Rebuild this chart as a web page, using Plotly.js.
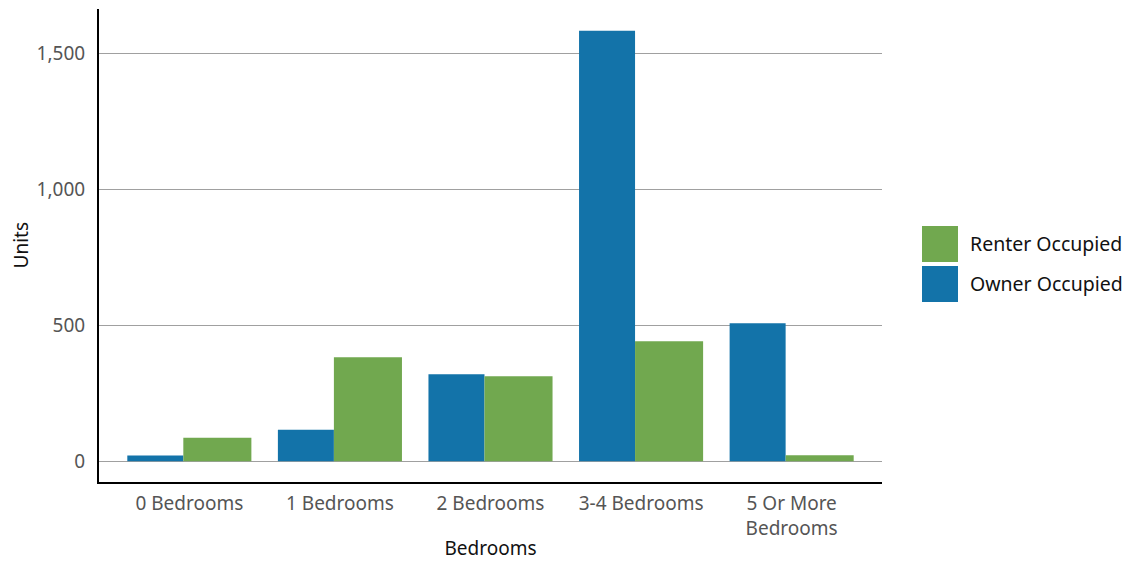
<!DOCTYPE html>
<html>
<head>
<meta charset="utf-8">
<script src="https://cdn.plot.ly/plotly-3.0.1.min.js"></script>
<style>html,body{margin:0;padding:0;background:#fff;}#chart{width:1128px;height:561px;}</style>
</head>
<body>
<div id="chart"></div>
<script>
const categories = ["0 Bedrooms", "1 Bedrooms", "2 Bedrooms", "3-4 Bedrooms", "5 Or More<br>Bedrooms"];
const ownerOccupied = [21, 116, 320, 1582, 507];
const renterOccupied = [87, 382, 313, 441, 22];
const seriesNames = ["Owner Occupied", "Renter Occupied"];
const seriesColors = ["#1373A9", "#71A84F"];
const yTicks = [0, 500, 1000, 1500];
const xTitle = "Bedrooms";
const yTitle = "Units";

const FONT = "Noto Sans, sans-serif";

const traces = [
  {type: "bar", name: seriesNames[0], x: categories, y: ownerOccupied, offset: -0.412, width: 0.372,
   marker: {color: seriesColors[0], line: {width: 0}}, showlegend: false, hoverinfo: "x+y+name"},
  {type: "bar", name: seriesNames[1], x: categories, y: renterOccupied, offset: -0.040, width: 0.452,
   marker: {color: seriesColors[1], line: {width: 0}}, showlegend: false, hoverinfo: "x+y+name"}
];

// custom legend (Renter first, then Owner) as large swatches
const legendOrder = [1, 0];
const shapes = [];
const annotations = [];
const legX0 = 922, legY0 = 226, sw = 36, step = 40;
legendOrder.forEach((idx, i) => {
  const top = legY0 + i * step;
  shapes.push({type: "rect", xref: "paper", yref: "paper",
    x0: (legX0 - 99) / (882 - 99), x1: (legX0 + sw - 99) / (882 - 99),
    y0: (482 - (top + sw)) / (482 - 9), y1: (482 - top) / (482 - 9),
    fillcolor: seriesColors[idx], line: {width: 0}});
  annotations.push({xref: "paper", yref: "paper", x: (968 - 99) / (882 - 99),
    y: (482 - (top + sw / 2)) / (482 - 9), xanchor: "left", yanchor: "middle",
    text: seriesNames[idx], showarrow: false, font: {family: FONT, size: 19.5, color: "#111"}});
});
// y-axis title placed as rotated text
annotations.push({xref: "paper", yref: "paper", x: (20 - 99) / (882 - 99), y: 0.5,
  xanchor: "center", yanchor: "middle", textangle: -90, text: yTitle, showarrow: false,
  font: {family: FONT, size: 19, color: "#111"}});

const layout = {
  width: 1128, height: 561,
  margin: {l: 99, r: 246, t: 9, b: 79},
  paper_bgcolor: "#fff", plot_bgcolor: "#fff",
  barmode: "overlay",
  showlegend: false,
  font: {family: FONT, size: 19, color: "#555"},
  xaxis: {
    type: "category", range: [-0.6, 4.6],
    showline: true, linecolor: "#000", linewidth: 2,
    showgrid: false, ticks: "", ticklabelstandoff: 3,
    tickfont: {family: FONT, size: 19, color: "#555"},
    title: {text: xTitle, font: {family: FONT, size: 19, color: "#111"}, standoff: 10}
  },
  yaxis: {
    range: [-76, 1662], tickvals: yTicks, tickformat: ",",
    showline: true, linecolor: "#000", linewidth: 2,
    showgrid: true, gridcolor: "#a0a0a0", gridwidth: 1, zeroline: false,
    ticks: "", ticklabelstandoff: 8,
    tickfont: {family: FONT, size: 19, color: "#555"}
  },
  shapes: shapes,
  annotations: annotations
};

Plotly.newPlot("chart", traces, layout, {displayModeBar: false, staticPlot: true});
</script>
</body>
</html>
